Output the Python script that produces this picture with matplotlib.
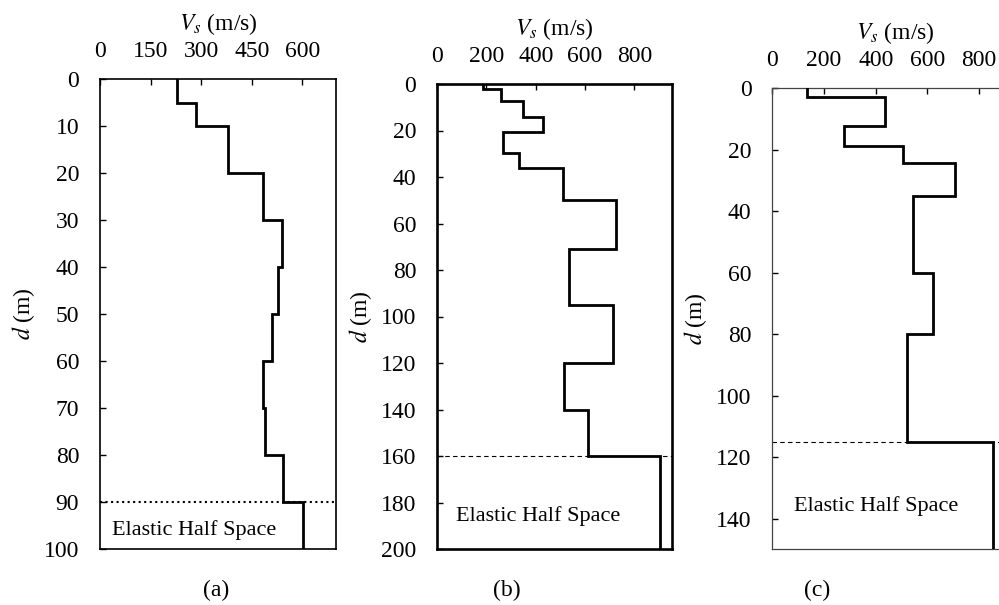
import numpy as np
import matplotlib
matplotlib.use('Agg')
import matplotlib.pyplot as plt

plt.rcParams['font.family'] = ['Liberation Serif', 'DejaVu Serif']
plt.rcParams['mathtext.fontset'] = 'stix'

# layer boundaries (m) and shear-wave velocity (m/s) of each layer
depth_a = [0, 5, 10, 20, 30, 40, 50, 60, 70, 80, 90, 100]
vs_a = [227, 284, 381, 482, 541, 529, 510, 484, 490, 543, 602]
hs_a = 90

depth_b = [0, 2, 7.5, 14.3, 20.8, 29.7, 36.2, 50, 71, 95, 120, 140, 160, 200]
vs_b = [185, 261, 350, 431, 269, 334, 509, 725, 533, 714, 514, 613, 905]
hs_b = 160

depth_c = [0, 3, 12.5, 19, 24.3, 35, 60, 80, 115, 150]
vs_c = [135, 436, 277, 505, 708, 543, 623, 520, 853]
hs_c = 115

xticks_a = [0, 150, 300, 450, 600]
xticks_b = [0, 200, 400, 600, 800]
xticks_c = [0, 200, 400, 600, 800]
yticks_a = [0, 10, 20, 30, 40, 50, 60, 70, 80, 90, 100]
yticks_b = [0, 20, 40, 60, 80, 100, 120, 140, 160, 180, 200]
yticks_c = [0, 20, 40, 60, 80, 100, 120, 140]


def profile(depth, vs):
    x = np.repeat(vs, 2)
    y = np.column_stack([depth[:-1], depth[1:]]).ravel()
    return x, y


def panel(fig, pos, depth, vs, hs, xmax, xticks, yticks, spine_lw, spine_col,
          hs_style, hs_lw, txt_xy):
    ax = fig.add_axes(pos)
    x, y = profile(depth, vs)
    ax.plot(x, y, color='black', lw=2.0, solid_joinstyle='miter', zorder=3)
    ax.axhline(hs, color='black', lw=hs_lw, linestyle=hs_style, clip_on=False,
               zorder=2)
    ax.set_xlim(0, xmax)
    ax.set_ylim(depth[-1], 0)
    ax.xaxis.tick_top()
    ax.xaxis.set_label_position('top')
    ax.set_xticks(xticks)
    ax.set_yticks(yticks)
    ax.tick_params(axis='x', direction='in', length=4, width=1, pad=12,
                   labelsize=17)
    ax.tick_params(axis='y', direction='in', length=4, width=1, pad=15,
                   labelsize=17)
    ax.set_xlabel(r'$V_s$ (m/s)', fontsize=17, labelpad=8)
    ax.set_ylabel(r'$d$ (m)', fontsize=17, labelpad=5)
    for s in ax.spines.values():
        s.set_linewidth(spine_lw)
        s.set_color(spine_col)
    ax.text(txt_xy[0], txt_xy[1], 'Elastic Half Space', fontsize=16,
            va='center', ha='left')
    return ax


fig = plt.figure(figsize=(9.99, 6.05), dpi=100)
W, H = 999.0, 605.0


def box(l, r, t, b):
    return [l / W, 1 - b / H, (r - l) / W, (b - t) / H]


panel(fig, box(100, 336, 79, 549), depth_a, vs_a, hs_a, 700, xticks_a,
      yticks_a, 1.2, 'black', ':', 1.5, (35, 96))
panel(fig, box(437, 671.5, 84, 549), depth_b, vs_b, hs_b, 950, xticks_b,
      yticks_b, 1.9, 'black', (0, (4, 3)), 0.8, (77, 186))
panel(fig, box(772.3, 1018, 88, 549.3), depth_c, vs_c, hs_c, 950, xticks_c,
      yticks_c, 0.9, '#444444', (0, (4, 3)), 0.8, (84, 136))

for lab, xp in [('(a)', 216), ('(b)', 507), ('(c)', 817)]:
    fig.text(xp / W, 1 - 590 / H, lab, fontsize=17, ha='center', va='center')

fig.savefig('out.png', dpi=100)
